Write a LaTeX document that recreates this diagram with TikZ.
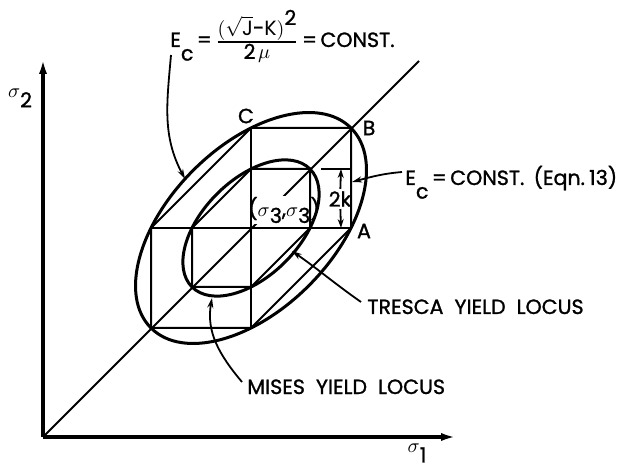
\documentclass[tikz,border=0pt]{standalone}
\usepackage{amsmath}
\usepackage{fontspec}
\setmainfont{Poppins}
\newfontfamily\lettering{Poppins}[FakeBold=1.2]
\usetikzlibrary{arrows.meta, calc}

\newcommand{\sgm}[2][-0.9ex]{$\sigma$\raisebox{#1}{#2}}
\newcommand{\Ec}{E\raisebox{-1.2ex}{c}}

\begin{document}
\begin{tikzpicture}[x=0.5pt, y=0.5pt,
    axis/.style={line width=1.6pt, -{Latex[length=8pt, width=4pt]}},
    locus/.style={line width=1.5pt},
    hexa/.style={line width=1pt, line join=miter},
    lead/.style={line width=0.9pt, -{Stealth[length=5pt, width=3pt]}},
    dim/.style={line width=0.9pt, -{Stealth[length=4.5pt, width=3pt]}},
    lbl/.style={font=\lettering\fontsize{10.3}{12}\selectfont, inner sep=1pt}
]
    \useasboundingbox (0,0) rectangle (620,471);

    % Axes and the line sigma1 = sigma2
    \coordinate (O) at (43,34);
    \coordinate (ytip) at (43,413);
    \coordinate (xtip) at (457,34);
    \coordinate (dtip) at (419,410);
    \coordinate (P) at (251,243);
    \draw[axis] (O) -- (ytip);
    \draw[axis] (O) -- (xtip);
    \draw[hexa] (O) -- (dtip);
    \node[lbl] (sig2) at (20,373) {\sgm{2}};
    \node[lbl] (sig1) at (417,18) {\sgm{1}};
    \node[lbl, fill=white, inner sep=0.5pt] (ctr) at (284,261) {(\sgm[-0.6ex]{3},\sgm[-0.6ex]{3})};

    % Hexagons and ellipses about (sigma3, sigma3)
    \foreach \d in {100,59} {
        \draw[hexa] ($(P)+(\d,\d)$) -- ++(0,-\d) -- ++(-\d,-\d) -- ++(-\d,0) -- ++(0,\d) -- ++(\d,\d) -- cycle;
        \draw[locus, rotate around={45:(P)}] (P) ellipse [x radius=\d*0.7071pt, y radius=\d*0.4082pt];
    }
    \draw[hexa] ($(P)+(-100,0)$) -- ($(P)+(100,0)$);
    \draw[hexa] ($(P)+(0,100)$) -- ($(P)+(0,-100)$);

    \node[lbl] (labC) at (246,355) {C};
    \node[lbl] (labB) at (369,343) {B};
    \node[lbl] (labA) at (364,240) {A};

    % 2k dimension
    \coordinate (dTop) at ($(P)+(90,59)$);
    \coordinate (dBot) at ($(P)+(90,0)$);
    \draw[hexa] ($(P)+(70,59)$) -- ($(P)+(99,59)$);
    \node[lbl] (k2) at (340,272) {2k};
    \draw[dim] (k2) -- (dTop);
    \draw[dim] (k2) -- (dBot);

    % Labels and leaders
    \node[lbl, anchor=base west] (ecf) at (168,424) {\Ec\,=\,$\genfrac{}{}{0.6pt}{1}{\textstyle(\sqrt{\mathrm{J}}\text{-}\mathrm{K})\raisebox{0.9ex}{2}}{\mbox{2}\,\textstyle\mu}$\,=\,CONST.};
    \node[lbl, anchor=base west] (eqn) at (403,286) {\Ec\,=\,CONST.\hspace{0.45em}(Eqn.\hspace{0.2em}13)};
    \node[lbl, anchor=base west] (tre) at (365,157) {TRESCA\ \ YIELD\ \ LOCUS};
    \node[lbl, anchor=base west] (mis) at (245,77) {MISES\ \ YIELD\ \ LOCUS};

    \coordinate (tipE) at ($(P)+(-66,49)$);
    \coordinate (tipH) at ($(P)+(101,46)$);
    \coordinate (tipT) at ($(P)+(41,-23)$);
    \coordinate (tipM) at ($(P)+(-39,-70)$);
    \draw[lead] ($(ecf.base west)+(3,-8)$) to[out=-95, in=118] (tipE);
    \draw[lead] ($(eqn.base west)+(-1,13)$) to[out=185, in=15] (tipH);
    \draw[lead] ($(tre.base west)+(-4,12)$) to[out=145, in=-35] (tipT);
    \draw[lead] ($(mis.base west)+(-3,12)$) to[out=130, in=-100] (tipM);
\end{tikzpicture}
\end{document}
